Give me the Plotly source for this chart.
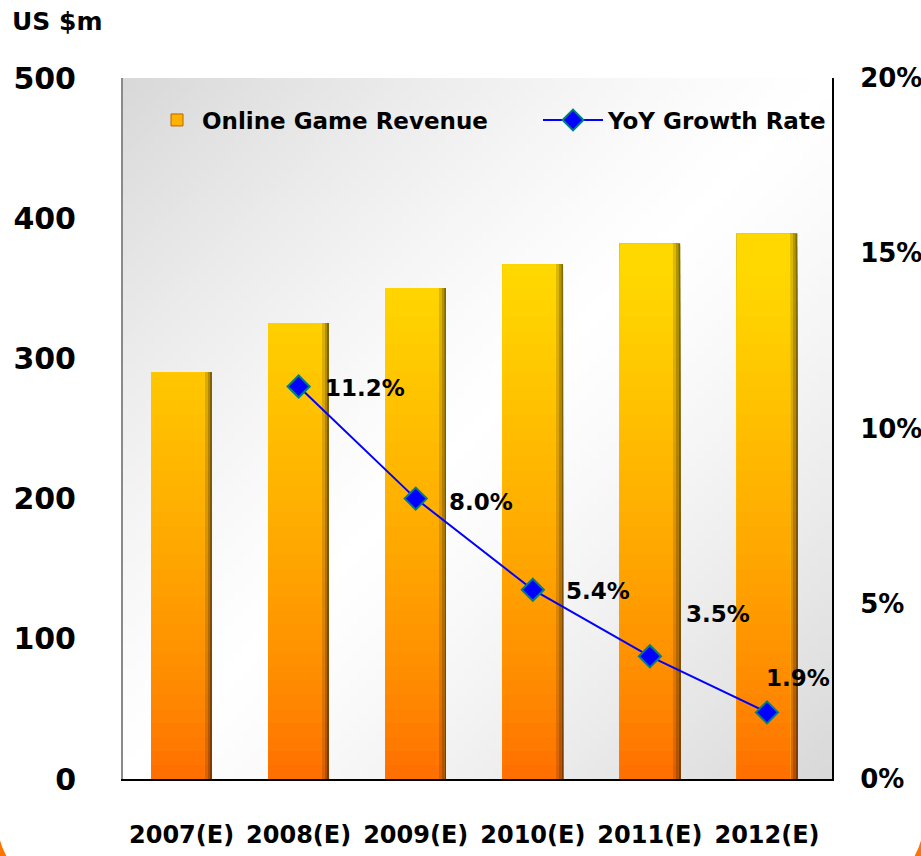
import base64
import struct
import zlib

import numpy as np
import plotly.graph_objects as go

# ---------------- data ----------------
years = ["2007(E)", "2008(E)", "2009(E)", "2010(E)", "2011(E)", "2012(E)"]
revenue = [290, 325, 350, 367, 382, 389]            # US $m
growth_years = ["2008(E)", "2009(E)", "2010(E)", "2011(E)", "2012(E)"]
growth = [0.112, 0.080, 0.054, 0.035, 0.019]         # YoY growth
growth_labels = ["11.2%", "8.0%", "5.4%", "3.5%", "1.9%"]
left_ticks = [0, 100, 200, 300, 400, 500]
right_ticks = [0, 0.05, 0.10, 0.15, 0.20]
right_tick_text = ["0%", "5%", "10%", "15%", "20%"]

# ---------------- style ----------------
W, H = 921, 856
ML, MR, MT, MB = 123, 89, 78, 77
PW, PH = W - ML - MR, H - MT - MB
FONT = "DejaVu Sans"
label_xshift = [24, 31, 31, 34, -3]
label_yshift = [-2, -3, -1, 42, 34]

rev = np.array(revenue, dtype=float)


def band_color(v, dark=1.0):
    t = min(max(v / 360.0, 0.0), 1.0) ** 0.75
    r, g, b = 255, 108 + (216 - 108) * t, 0
    return "rgb(%d,%d,%d)" % (r * dark, g * dark, b * dark)


def px(x):
    return (x - ML) / PW


def py(y):
    return (H - MB - y) / PH


fig = go.Figure()

# gradient bars drawn as overlaid layers (bevel: darker right edge)
band_step = 10
thresholds = np.arange(400, 0, -band_step)
layers = [(0.516, 0.50), (0.50, 0.70), (0.48, 0.86), (0.455, 1.0)]
for width, dark in layers:
    for thr in thresholds:
        h = np.minimum(rev, thr)
        fig.add_trace(go.Bar(
            x=years, y=h, width=width, offset=-0.258,
            marker=dict(color=band_color(thr - band_step / 2, dark), line=dict(width=0)),
            name="Online Game Revenue", showlegend=False, hoverinfo="skip",
        ))

# legend entry for bars
fig.add_trace(go.Bar(
    x=[None], y=[None], name="Online Game Revenue", legend="legend",
    marker=dict(color="#FFB300", line=dict(color="#C06000", width=1)),
    showlegend=True,
))

# growth line
fig.add_trace(go.Scatter(
    x=growth_years, y=growth, yaxis="y2", mode="lines+markers",
    name="YoY Growth Rate", legend="legend2",
    line=dict(color="#0000FF", width=2),
    marker=dict(symbol="diamond", size=17, color="#0000FF",
                line=dict(color="#008080", width=2)),
))

for xv, yv, txt, dx, dy in zip(growth_years, growth, growth_labels, label_xshift, label_yshift):
    fig.add_annotation(x=xv, y=yv, xref="x", yref="y2", text=txt, showarrow=False,
                       xanchor="left", yanchor="middle", xshift=dx, yshift=dy,
                       font=dict(family=FONT, size=23, color="black", weight="bold"))

fig.add_annotation(x=px(10), y=py(22), xref="paper", yref="paper",
                   text="US $m", showarrow=False, xanchor="left", yanchor="middle",
                   font=dict(family=FONT, size=25, color="black", weight="bold"))


# background gradient image for the plot area
def make_png(w, h):
    rows = []
    for j in range(h):
        row = bytearray([0])
        for i in range(w):
            t = (i / (w - 1) + j / (h - 1)) / 2.0
            d = abs(2 * t - 1)
            g = int(round(255 - 38 * d ** 1.3))
            row += bytes([g, g, g])
        rows.append(bytes(row))
    raw = b"".join(rows)

    def chunk(tag, data):
        c = struct.pack(">I", len(data)) + tag + data
        return c + struct.pack(">I", zlib.crc32(tag + data) & 0xFFFFFFFF)

    png = b"\x89PNG\r\n\x1a\n"
    png += chunk(b"IHDR", struct.pack(">IIBBBBB", w, h, 8, 2, 0, 0, 0))
    png += chunk(b"IDAT", zlib.compress(raw, 9))
    png += chunk(b"IEND", b"")
    return "data:image/png;base64," + base64.b64encode(png).decode()


fig.add_layout_image(dict(source=make_png(80, 80), xref="paper", yref="paper",
                          x=0, y=1, sizex=1, sizey=1, sizing="stretch",
                          xanchor="left", yanchor="top", layer="below"))

# orange rounded frame visible at bottom corners
k = 0.5523
R = 90
xl, xr, yb, ytop = -13, 934, 908, 700
pts = [
    ("M", [(xl, ytop)]),
    ("L", [(xl, yb - R)]),
    ("C", [(xl, yb - R + R * k), (xl + R - R * k, yb), (xl + R, yb)]),
    ("L", [(xr - R, yb)]),
    ("C", [(xr - R + R * k, yb), (xr, yb - R + R * k), (xr, yb - R)]),
    ("L", [(xr, ytop)]),
]
path = " ".join(cmd + " " + " ".join("%.5f,%.5f" % (px(a), py(b)) for a, b in p) for cmd, p in pts)
fig.add_shape(type="path", path=path, xref="paper", yref="paper",
              line=dict(color="#FF7300", width=20), layer="below")

legend_font = dict(family=FONT, size=23, color="black", weight="bold")
fig.update_layout(
    width=W, height=H,
    margin=dict(l=ML, r=MR, t=MT, b=MB, autoexpand=False),
    paper_bgcolor="white", plot_bgcolor="#f4f4f4",
    barmode="overlay", bargap=0.48,
    font=dict(family=FONT, color="black"),
    showlegend=True,
    legend=dict(orientation="h", x=px(152), y=py(120), xanchor="left", yanchor="middle",
                bgcolor="rgba(0,0,0,0)", font=legend_font, itemwidth=40),
    legend2=dict(orientation="h", x=px(538), y=py(120), xanchor="left", yanchor="middle",
                 bgcolor="rgba(0,0,0,0)", font=legend_font, itemwidth=60),
    xaxis=dict(type="category", categoryorder="array", categoryarray=years,
               showline=True, linecolor="black", linewidth=2, showgrid=False,
               ticks="", ticklabelstandoff=33,
               tickfont=dict(family=FONT, size=24, color="black", weight="bold"),
               fixedrange=True),
    yaxis=dict(range=[0, 500], tickvals=left_ticks, showgrid=False, zeroline=False,
               showline=True, linecolor="#8a8a8a", linewidth=2,
               ticks="", ticklabelstandoff=39,
               tickfont=dict(family=FONT, size=30, color="black", weight="bold")),
    yaxis2=dict(range=[0, 0.20], overlaying="y", side="right", tickvals=right_ticks,
                ticktext=right_tick_text, showgrid=False, zeroline=False,
                showline=True, linecolor="black", linewidth=2,
                ticks="", ticklabelstandoff=21,
                tickfont=dict(family=FONT, size=26, color="black", weight="bold")),
)

fig.write_html("out.html")
